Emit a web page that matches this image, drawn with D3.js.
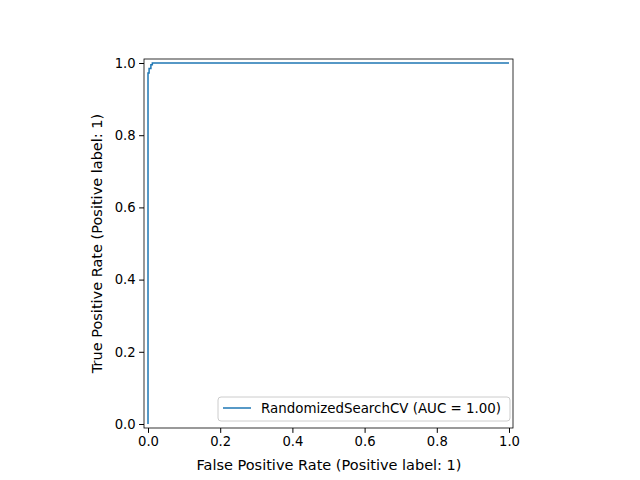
<!DOCTYPE html><html><head><script src="https://cdn.jsdelivr.net/npm/d3@7"></script>
<style>body{margin:0}text{font-family:"DejaVu Sans",sans-serif}</style></head><body><svg width="640" height="480"></svg>
<script>
const fpr=[0,0,0.003,0.003,0.008,0.008,0.012,0.012,1];
const tpr=[0,0.972,0.972,0.985,0.985,0.995,0.995,1,1];
const ticks=[0,0.2,0.4,0.6,0.8,1.0];
const label="RandomizedSearchCV (AUC = 1.00)";
const svg=d3.select("svg");
const L=144,R=513,T=59,B=428;
const x=d3.scaleLinear().domain([-0.0111,1.0111]).range([L,R]);
const y=d3.scaleLinear().domain([-0.0111,1.0111]).range([B,T]);
svg.append("g").attr("transform",`translate(0,${B})`).call(d3.axisBottom(x).tickValues(ticks).tickFormat(d3.format(".1f")).tickSize(4.9).tickPadding(3.5));
svg.append("g").attr("transform",`translate(${L},0)`).call(d3.axisLeft(y).tickValues(ticks).tickFormat(d3.format(".1f")).tickSize(4.9).tickPadding(3.5));
svg.selectAll(".domain").remove();
svg.selectAll(".tick text").attr("font-size",13.2).attr("fill","#000").attr("font-family","DejaVu Sans");
svg.selectAll(".tick line").attr("stroke","#000");
svg.append("path").datum(fpr.map((d,i)=>[d,tpr[i]])).attr("d",d3.line().x(d=>x(d[0])).y(d=>y(d[1]))).attr("fill","none").attr("stroke","#1f77b4").attr("stroke-width",1.5);
svg.append("rect").attr("x",L).attr("y",T).attr("width",R-L).attr("height",B-T).attr("fill","none").attr("stroke","#000").attr("stroke-width",0.8);
svg.append("text").attr("x",(L+R)/2+0.5).attr("y",470).attr("text-anchor","middle").attr("font-size",14.5).text("False Positive Rate (Positive label: 1)");
svg.append("text").attr("transform",`translate(102,${(T+B)/2}) rotate(-90)`).attr("text-anchor","middle").attr("font-size",14.5).text("True Positive Rate (Positive label: 1)");
const lg=svg.append("g");
lg.append("rect").attr("x",218).attr("y",397).attr("width",292).attr("height",24).attr("rx",3).attr("fill","#fff").attr("fill-opacity",0.8).attr("stroke","#ccc");
lg.append("line").attr("x1",223).attr("x2",251).attr("y1",408).attr("y2",408).attr("stroke","#1f77b4").attr("stroke-width",1.5);
lg.append("text").attr("x",261).attr("y",413).attr("font-size",13.4).text(label);
</script></body></html>
